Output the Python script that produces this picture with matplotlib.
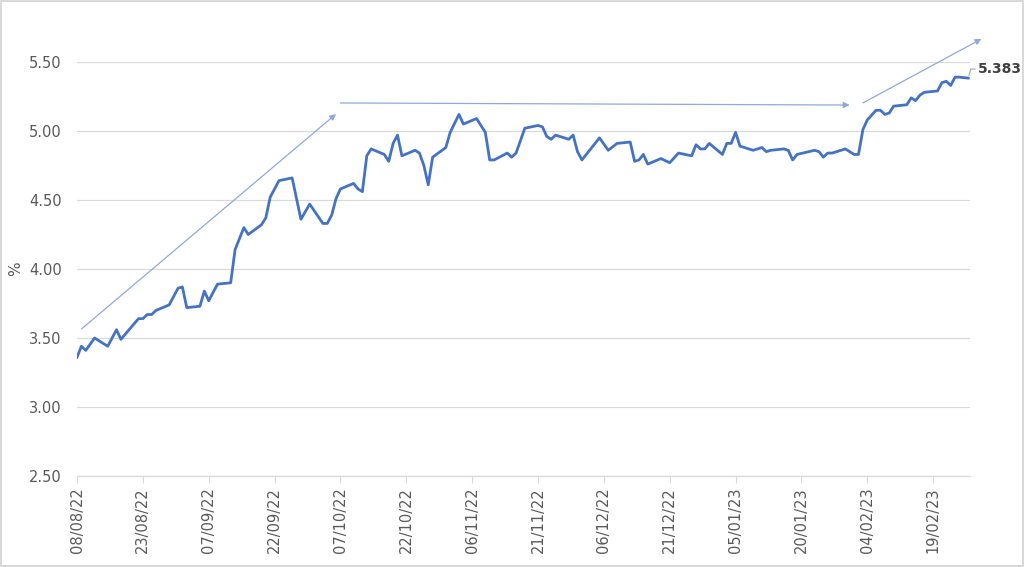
import matplotlib
matplotlib.use("Agg")
import matplotlib.pyplot as plt
import matplotlib.dates as mdates
import pandas as pd

dates = [
    "08/08/22", "09/08/22", "10/08/22", "12/08/22", "15/08/22", "17/08/22", "18/08/22",
    "22/08/22", "23/08/22", "24/08/22", "25/08/22", "26/08/22", "29/08/22", "31/08/22",
    "01/09/22", "02/09/22", "05/09/22", "06/09/22", "07/09/22", "09/09/22", "12/09/22",
    "13/09/22", "15/09/22", "16/09/22", "19/09/22", "20/09/22", "21/09/22", "23/09/22",
    "26/09/22", "28/09/22", "30/09/22", "03/10/22", "04/10/22", "05/10/22", "06/10/22",
    "07/10/22", "10/10/22", "11/10/22", "12/10/22", "13/10/22", "14/10/22", "17/10/22",
    "18/10/22", "19/10/22", "20/10/22", "21/10/22", "24/10/22", "25/10/22", "26/10/22",
    "27/10/22", "28/10/22", "31/10/22", "01/11/22", "03/11/22", "04/11/22", "07/11/22",
    "09/11/22", "10/11/22", "11/11/22", "14/11/22", "15/11/22", "16/11/22", "18/11/22",
    "21/11/22", "22/11/22", "23/11/22", "24/11/22", "25/11/22", "28/11/22", "29/11/22",
    "30/11/22", "01/12/22", "05/12/22", "07/12/22", "09/12/22", "12/12/22", "13/12/22",
    "14/12/22", "15/12/22", "16/12/22", "19/12/22", "21/12/22", "23/12/22", "26/12/22",
    "27/12/22", "28/12/22", "29/12/22", "30/12/22", "02/01/23", "03/01/23", "04/01/23",
    "05/01/23", "06/01/23", "09/01/23", "11/01/23", "12/01/23", "13/01/23", "16/01/23",
    "17/01/23", "18/01/23", "19/01/23", "23/01/23", "24/01/23", "25/01/23", "26/01/23",
    "27/01/23", "30/01/23", "01/02/23", "02/02/23", "03/02/23", "04/02/23", "06/02/23",
    "07/02/23", "08/02/23", "09/02/23", "10/02/23", "13/02/23", "14/02/23", "15/02/23",
    "16/02/23", "17/02/23", "20/02/23", "21/02/23", "22/02/23", "23/02/23", "24/02/23",
    "25/02/23", "27/02/23",
]
values = [
    3.36, 3.44, 3.41, 3.50, 3.44, 3.56, 3.49,
    3.64, 3.64, 3.67, 3.67, 3.70, 3.74, 3.86,
    3.87, 3.72, 3.73, 3.84, 3.77, 3.89, 3.90,
    4.14, 4.30, 4.25, 4.32, 4.37, 4.52, 4.64,
    4.66, 4.36, 4.47, 4.33, 4.33, 4.39, 4.51,
    4.58, 4.62, 4.58, 4.56, 4.82, 4.87, 4.83,
    4.78, 4.91, 4.97, 4.82, 4.86, 4.84, 4.75,
    4.61, 4.81, 4.88, 4.99, 5.12, 5.05, 5.09,
    4.99, 4.79, 4.79, 4.84, 4.81, 4.84, 5.02,
    5.04, 5.03, 4.96, 4.94, 4.97, 4.94, 4.97,
    4.85, 4.79, 4.95, 4.86, 4.91, 4.92, 4.78,
    4.79, 4.83, 4.76, 4.80, 4.77, 4.84, 4.82,
    4.90, 4.87, 4.87, 4.91, 4.83, 4.91, 4.91,
    4.99, 4.89, 4.86, 4.88, 4.85, 4.86, 4.87,
    4.86, 4.79, 4.83, 4.86, 4.85, 4.81, 4.84,
    4.84, 4.87, 4.83, 4.83, 5.01, 5.08, 5.15,
    5.15, 5.12, 5.13, 5.18, 5.19, 5.24, 5.22,
    5.26, 5.28, 5.29, 5.35, 5.36, 5.33, 5.39,
    5.39, 5.383,
]
last_label = "5.383"

# trend arrows: (start date, start value, end date, end value)
arrows = [
    ("09/08/22", 3.565, "06/10/22", 5.123),
    ("07/10/22", 5.203, "31/01/23", 5.188),
    ("03/02/23", 5.203, "02/03/23", 5.667),
]

x = pd.to_datetime(dates, format="%d/%m/%y")
first, last = x[0], x[-1]
tick_dates = pd.date_range(first, last, freq="15D")

line_col = "#4472c4"
grid_col = "#d9d9d9"
text_col = "#595959"

fig = plt.figure(figsize=(10.24, 5.67), dpi=100)
fig.patch.set_edgecolor("#d9d9d9")
fig.patch.set_linewidth(1.5)
ax = fig.add_axes([0.0752, 0.1605, 0.8718, 0.7302])

ax.plot(x, values, color=line_col, lw=2, solid_joinstyle="round", zorder=3)

ax.set_ylim(2.5, 5.5)
ax.set_yticks([2.5, 3.0, 3.5, 4.0, 4.5, 5.0, 5.5])
ax.yaxis.set_major_formatter(matplotlib.ticker.FormatStrFormatter("%.2f"))
ax.set_xlim(first, last + pd.Timedelta(hours=8))
ax.set_xticks(tick_dates)
ax.xaxis.set_major_formatter(mdates.DateFormatter("%d/%m/%y"))

ax.grid(axis="y", color=grid_col, lw=0.9)
ax.set_axisbelow(True)
for s in ["top", "right", "left"]:
    ax.spines[s].set_visible(False)
ax.spines["bottom"].set_color(grid_col)
ax.spines["bottom"].set_linewidth(0.9)
ax.tick_params(axis="y", length=0, labelsize=10.5, labelcolor=text_col, pad=11)
ax.tick_params(axis="x", length=5, color=grid_col, labelsize=10.5,
               labelcolor=text_col, labelrotation=90, pad=3)
ax.set_ylabel("%", color=text_col, fontsize=11, labelpad=4)

for d0, v0, d1, v1 in arrows:
    ax.annotate("", xy=(pd.to_datetime(d1, format="%d/%m/%y"), v1),
                xytext=(pd.to_datetime(d0, format="%d/%m/%y"), v0),
                arrowprops=dict(arrowstyle="-|>", color="#8eaadb", lw=0.9,
                                mutation_scale=9, shrinkA=0, shrinkB=0),
                annotation_clip=False)

# data label on the last point with a small leader line
ax.annotate(last_label, xy=(last, values[-1]), xytext=(7, 6.5),
            textcoords="offset points", fontsize=10, fontweight="bold",
            color="#404040", va="center", ha="left", annotation_clip=False,
            arrowprops=dict(arrowstyle="-", color="#a6a6a6", lw=0.8,
                            shrinkA=0, shrinkB=2,
                            connectionstyle="angle,angleA=0,angleB=75,rad=0"))

fig.savefig("out.png", dpi=100, edgecolor=fig.get_edgecolor())
